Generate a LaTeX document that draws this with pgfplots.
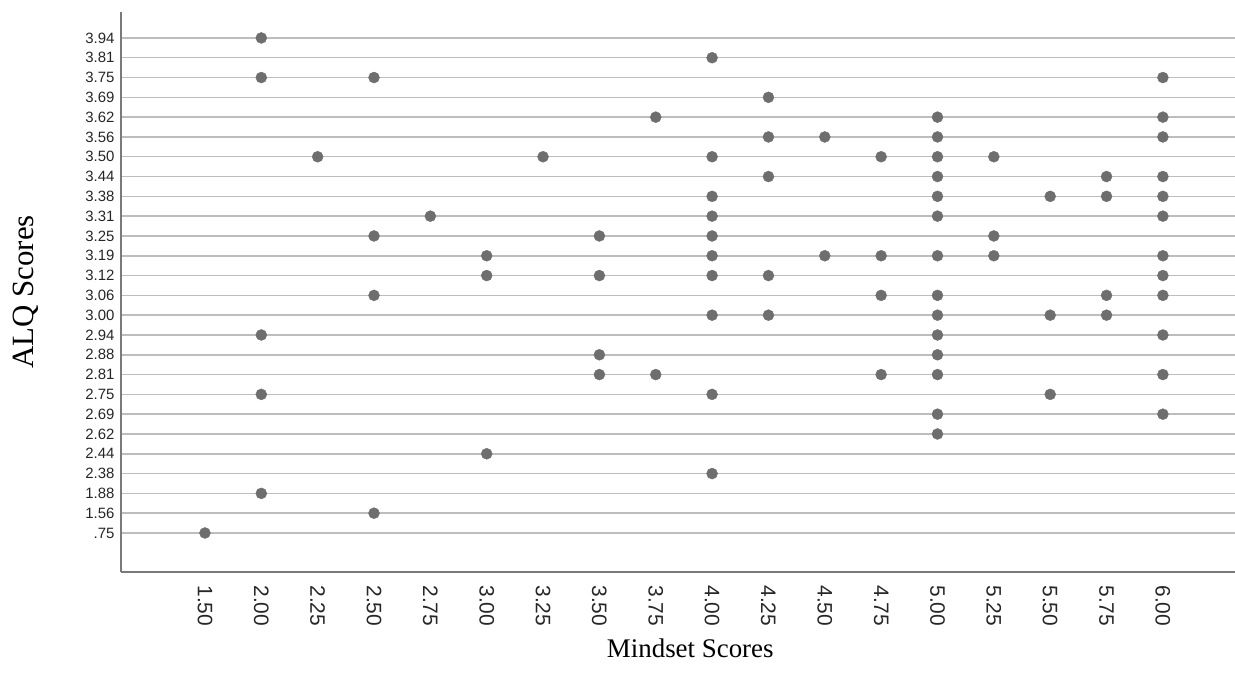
\documentclass[border=0pt]{standalone}
\usepackage{pgfplots}
\pgfplotsset{compat=1.18}
\usepackage{fontspec}
\setmainfont{Liberation Serif}
\newfontfamily\arial{Liberation Sans}
\definecolor{dotc}{HTML}{6E6E6E}
\definecolor{gridc}{HTML}{BDBDBD}
\definecolor{axc}{HTML}{7A7A7A}
\begin{document}
\begin{tikzpicture}
\path[use as bounding box] (-121bp,-109bp) rectangle (1114bp,572bp);
\begin{axis}[
  scale only axis,
  width=1114bp, height=560bp,
  xmin=-1.49, xmax=18.28,
  ymin=-1.97, ymax=26.31,
  axis x line=bottom, axis y line=left,
  axis line style={color=axc, line width=1.3bp, -},
  major tick length=0,
  xtick={0,...,17},
  xticklabels={1.50,2.00,2.25,2.50,2.75,3.00,3.25,3.50,3.75,4.00,4.25,4.50,4.75,5.00,5.25,5.50,5.75,6.00},
  ytick={0,...,25},
  yticklabels={.75,1.56,1.88,2.38,2.44,2.62,2.69,2.75,2.81,2.88,2.94,3.00,3.06,3.12,3.19,3.25,3.31,3.38,3.44,3.50,3.56,3.62,3.69,3.75,3.81,3.94},
  xticklabel style={font=\arial\fontsize{21}{24}\selectfont, rotate=-90, anchor=west, xshift=10bp, color=black!85},
  yticklabel style={font=\arial\fontsize{15}{16}\selectfont, anchor=east, xshift=-3bp, color=black!85},
  ymajorgrids, grid style={color=gridc, line width=1.5bp},
  xlabel={Mindset Scores}, ylabel={ALQ Scores},
  xlabel style={font=\fontsize{27}{30}\selectfont, at={(axis description cs:0.511,-0.1357)}, anchor=center},
  ylabel style={font=\fontsize{31}{33}\selectfont, at={(axis description cs:-0.0853,0.5)}, anchor=center},
  clip=false,
]
\addplot[only marks, mark=*, mark size=5.5bp, color=dotc, mark options={draw=dotc, fill=dotc}] table {
x y
1 25
9 24
1 23
3 23
17 23
10 22
8 21
13 21
17 21
10 20
11 20
13 20
17 20
2 19
6 19
9 19
12 19
13 19
14 19
10 18
13 18
16 18
17 18
9 17
13 17
15 17
16 17
17 17
4 16
9 16
13 16
17 16
3 15
7 15
9 15
14 15
5 14
9 14
11 14
12 14
13 14
14 14
17 14
5 13
7 13
9 13
10 13
17 13
3 12
12 12
13 12
16 12
17 12
9 11
10 11
13 11
15 11
16 11
1 10
13 10
17 10
7 9
13 9
7 8
8 8
12 8
13 8
17 8
1 7
9 7
15 7
13 6
17 6
13 5
5 4
9 3
1 2
3 1
0 0
};
\end{axis}
\end{tikzpicture}
\end{document}
